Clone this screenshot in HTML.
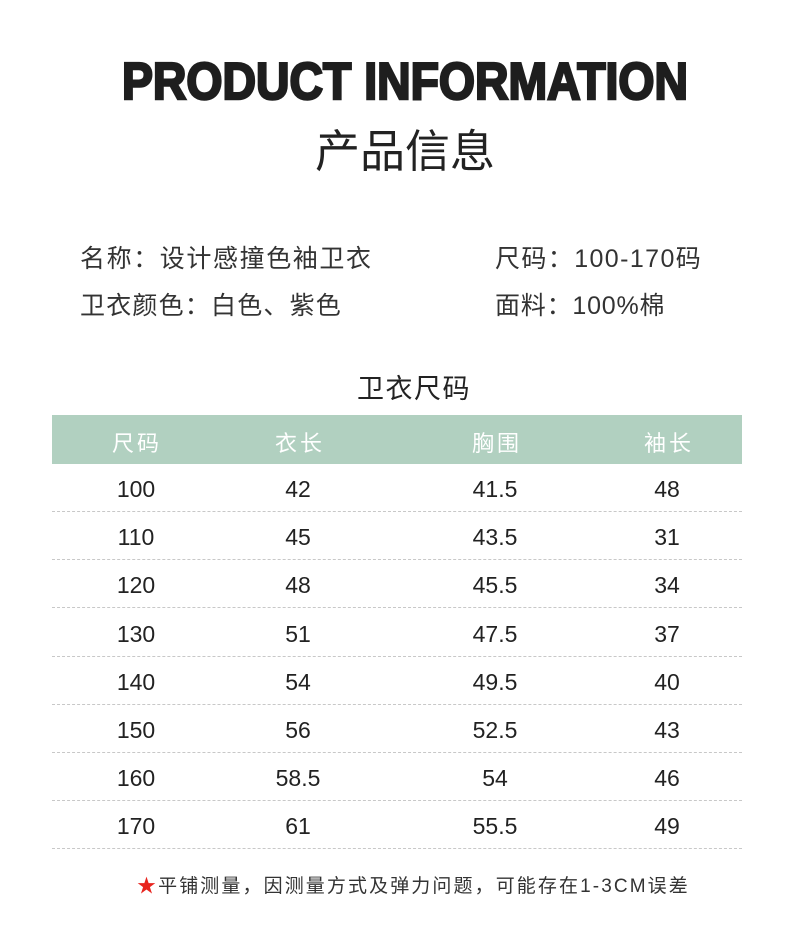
<!DOCTYPE html>
<html><head><meta charset="utf-8"><style>
body{margin:0;width:790px;height:943px;background:#fff;position:relative;overflow:hidden;font-family:"Liberation Sans","Noto Sans CJK SC",sans-serif;color:#222}
.a{position:absolute;white-space:nowrap}
.c{position:absolute;transform:translateX(-50%);white-space:nowrap}
.hd{position:absolute;left:52px;top:415px;width:690px;height:49px;background:#b1d0c0}
.dl{position:absolute;left:52px;width:690px;border-top:1px dashed #c8c8c8}
.r{font-size:23px;color:#222}
.h{font-size:22px;color:#fff;letter-spacing:3px}
.i{font-size:25px;color:#333}
</style></head><body>
<svg class="a" style="left:0;top:0" width="790" height="120">
<text x="122" y="99" textLength="566" lengthAdjust="spacingAndGlyphs" font-family="Liberation Sans" font-weight="bold" font-size="52" fill="#1e1e1e" stroke="#1e1e1e" stroke-width="2.5">PRODUCT INFORMATION</text>
</svg>
<div class="c" style="left:405px;top:115px;font-size:45px;color:#222">产品信息</div>
<div class="a i" style="left:80px;top:239px;letter-spacing:1.6px">名称：设计感撞色袖卫衣</div>
<div class="a i" style="left:495px;top:239px;letter-spacing:1.4px">尺码：100-170码</div>
<div class="a i" style="left:80px;top:286px;letter-spacing:1.2px">卫衣颜色：白色、紫色</div>
<div class="a i" style="left:495px;top:286px;letter-spacing:0.8px">面料：100%棉</div>
<div class="c" style="left:414px;top:367px;font-size:27px;color:#222;letter-spacing:1.5px">卫衣尺码</div>
<div class="hd"></div>
<div class="c h" style="left:137px;top:426px">尺码</div>
<div class="c h" style="left:300px;top:426px">衣长</div>
<div class="c h" style="left:497px;top:426px">胸围</div>
<div class="c h" style="left:669px;top:426px">袖长</div>
<div id="rows"></div>
<script>
var d=[[100,42,41.5,48],[110,45,43.5,31],[120,48,45.5,34],[130,51,47.5,37],[140,54,49.5,40],[150,56,52.5,43],[160,58.5,54,46],[170,61,55.5,49]];
var x=[136,298,495,667],h='';
d.forEach(function(r,i){var y=476+i*48.2;r.forEach(function(v,j){h+='<div class="c r" style="left:'+x[j]+'px;top:'+y+'px">'+v+'</div>'});h+='<div class="dl" style="top:'+(511+i*48.2)+'px"></div>'});
document.getElementById('rows').innerHTML=h;
</script>
<div class="a" style="left:137px;top:871px;font-size:19px;color:#333;letter-spacing:2.1px"><span style="color:#e8251f">★</span>平铺测量，因测量方式及弹力问题，可能存在1-3CM误差</div>
</body></html>
